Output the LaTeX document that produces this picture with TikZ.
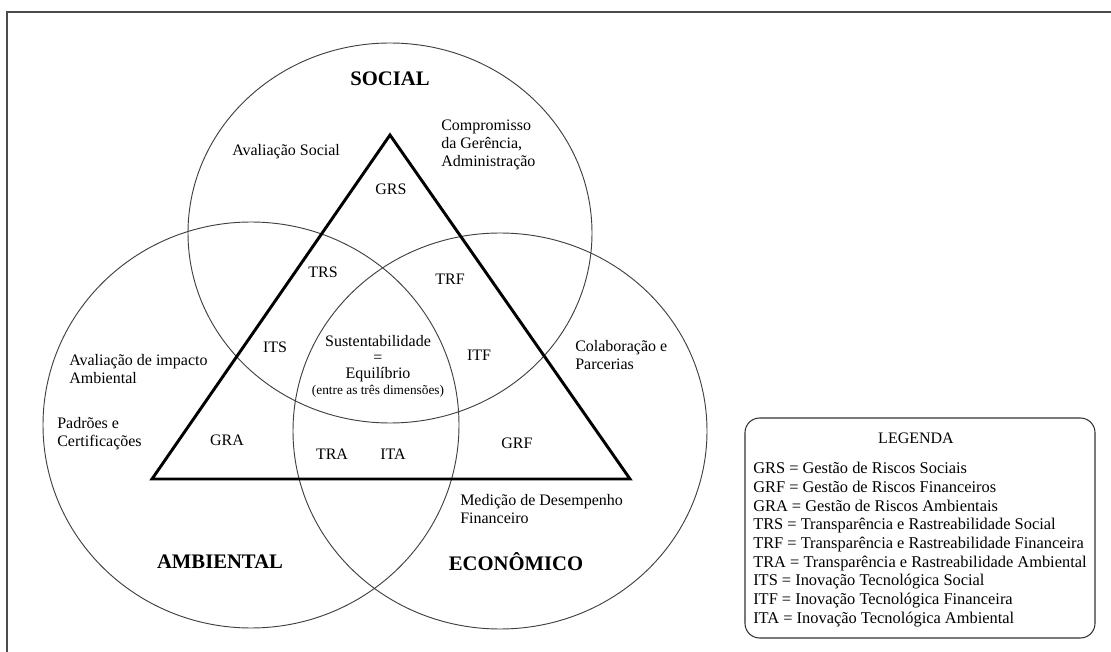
\documentclass[tikz,border=0pt]{standalone}
\usepackage{fontspec}
\setmainfont{Liberation Serif}
\usetikzlibrary{positioning}

\tikzset{
  ring/.style={line width=0.7pt, black!75},
  tri/.style={line width=2.2pt, line join=miter},
  lbl/.style={inner sep=0pt, font=\fontsize{12}{13.5}\selectfont},
  note/.style={lbl, align=left, anchor=west},
  dim/.style={inner sep=0pt, font=\bfseries\fontsize{15.5}{18}\selectfont},
  legendbox/.style={draw, black!80, line width=0.8pt, rounded corners=11pt,
                    minimum width=262.5pt, minimum height=165pt},
}

\begin{document}
\begin{tikzpicture}[x=0.75pt,y=-0.75pt]

     \useasboundingbox (0,0) rectangle (1111,652);
     \draw[black!70, line width=1pt] (7,12) rectangle (1130,670); % the frame

     % the three dimensions
     \coordinate (soc) at (390,233);
     \coordinate (amb) at (251,425);
     \coordinate (eco) at (500,431);
     \draw[ring] (soc) ellipse [x radius=202, y radius=190];
     \draw[ring] (amb) ellipse [x radius=208, y radius=203];
     \draw[ring] (eco) ellipse [x radius=207, y radius=198];

     % the triangle
     \coordinate (top) at (390,135);
     \coordinate (left) at (152,479);
     \coordinate (right) at (630,479);
     \draw[tri] (top) -- (left) -- (right) -- cycle;

     % names of the dimensions
     \node[dim] (social) at (390,79) {SOCIAL};
     \node[dim] (ambiental) at (220,562) {AMBIENTAL};
     \node[dim] (economico) at (516,562) {ECONÔMICO};

     % texts round the triangle
     \node[note] (avsoc) at (232,152) {Avaliação Social};
     \node[note] (compr) at (441,145) {Compromisso\\da Gerência,\\Administração};
     \node[note] (avamb) at (69,369.5) {Avaliação de impacto\\Ambiental};
     \node[note] (padroes) at (57,433.5) {Padrões e\\Certificações};
     \node[note] (colab) at (575,355) {Colaboração e\\Parcerias};
     \node[note] (medicao) at (460,509.5) {Medição de Desempenho\\Financeiro};

     % codes inside the triangle
     \node[lbl] (grs) at (391,189) {GRS};
     \node[lbl] (trs) at (323,272) {TRS};
     \node[lbl] (trf) at (450,279) {TRF};
     \node[lbl] (its) at (275,347) {ITS};
     \node[lbl] (itf) at (479,355) {ITF};
     \node[lbl] (gra) at (227,440) {GRA};
     \node[lbl] (tra) at (332,454) {TRA};
     \node[lbl] (ita) at (393,454) {ITA};
     \node[lbl] (grf) at (517,443) {GRF};

     % centre
     \node[lbl, align=center, font=\fontsize{12}{12}\selectfont] (sust) at (378,366)
          {Sustentabilidade\\=\\Equilíbrio\\{\fontsize{10}{12}\selectfont(entre as três dimensões)}};

     % legend
     \node[legendbox] (legend) at (920,528) {};
     \node[lbl] (legtitle) at (916,438) {LEGENDA};
     \node[note, font=\fontsize{12.3}{14}\selectfont] (legtext) at (753,544.5)
          {GRS = Gestão de Riscos Sociais\\
           GRF = Gestão de Riscos Financeiros\\
           GRA = Gestão de Riscos Ambientais\\
           TRS = Transparência e Rastreabilidade Social\\
           TRF = Transparência e Rastreabilidade Financeira\\
           TRA = Transparência e Rastreabilidade Ambiental\\
           ITS = Inovação Tecnológica Social\\
           ITF = Inovação Tecnológica Financeira\\
           ITA = Inovação Tecnológica Ambiental};

\end{tikzpicture}
\end{document}
